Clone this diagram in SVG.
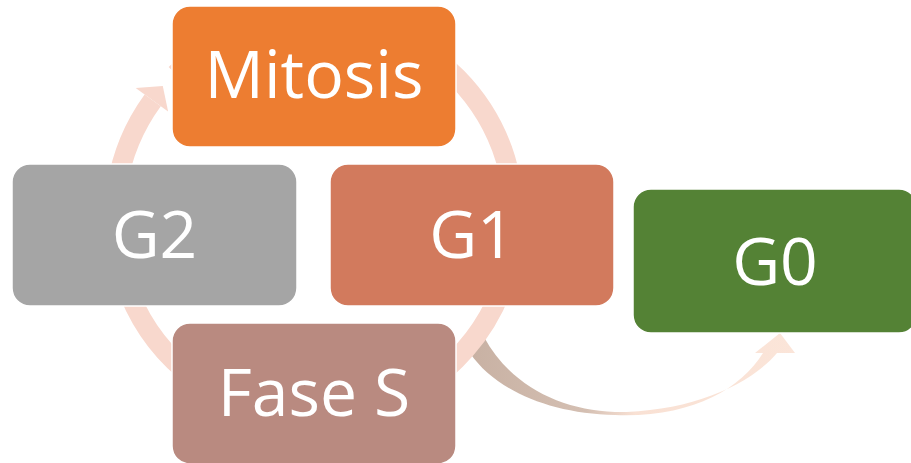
<svg xmlns="http://www.w3.org/2000/svg" width="911" height="463" viewBox="0 0 911 463">
<defs>
<linearGradient id="g0grad" gradientUnits="userSpaceOnUse" x1="470" y1="0" x2="800" y2="0">
<stop offset="0" stop-color="#C8B1A3"/>
<stop offset="0.35" stop-color="#D4BFB2"/>
<stop offset="0.5" stop-color="#F9E1D4"/>
<stop offset="1" stop-color="#FBE5D9"/>
</linearGradient>
<style>
.box{stroke:#FFFFFF;stroke-width:1.5}
.lbl{font-family:"Open Sans","Liberation Sans",sans-serif;font-size:66px;fill:#FFFFFF;text-anchor:middle}
.ring{fill:none;stroke:#F8D8CD;stroke-width:20}
</style>
</defs>
<g id="connectors">
<path d="M 484 337 C 510 385, 560 410, 615 412 C 690 412, 750 385, 777 353 L 795 353 L 780 333 L 755 353 L 763 353 C 740 390, 690 418, 615 415 C 550 414, 495 390, 470 353 Z" fill="url(#g0grad)"/>
<path class="ring" d="M 175.6 74.1 A 200 200 0 1 1 152.7 100.4"/>
<polygon points="135.7,88.1 162.8,86.1 168.1,111.6" fill="#F8D8CD"/>
</g>
<g id="mitosis">
<rect class="box" x="172" y="6" width="284" height="141" rx="18" fill="#ED7D31"/>
<text class="lbl" x="314" y="98">Mitosis</text>
</g>
<g id="g2">
<rect class="box" x="12" y="164" width="285" height="142" rx="18" fill="#A5A5A5"/>
<text class="lbl" x="154.5" y="258">G2</text>
</g>
<g id="g1">
<rect class="box" x="330" y="164" width="284" height="142" rx="18" fill="#D27A5D"/>
<text class="lbl" x="472" y="258">G1</text>
</g>
<g id="fases">
<rect class="box" x="172" y="323" width="284" height="141" rx="18" fill="#B98A80"/>
<text class="lbl" x="314" y="416">Fase S</text>
</g>
<g id="g0">
<rect class="box" x="633" y="189" width="284" height="144" rx="18" fill="#548235"/>
<text class="lbl" x="775" y="285">G0</text>
</g>
</svg>
